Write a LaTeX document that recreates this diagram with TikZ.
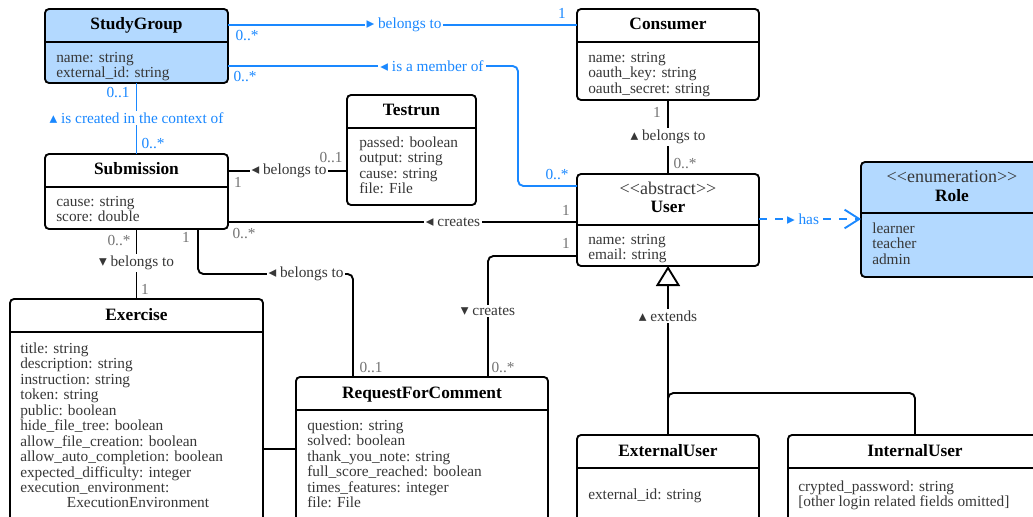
\documentclass[tikz,border=0pt]{standalone}
\usepackage{fontspec}
\setmainfont{Liberation Serif}
\newfontfamily\symfont{DejaVu Sans}
\usetikzlibrary{arrows.meta,fit}

\definecolor{umlblue}{RGB}{26,136,255}
\definecolor{umlfill}{RGB}{179,217,255}
\definecolor{attrgray}{RGB}{55,55,55}
\definecolor{multgray}{RGB}{115,115,115}

% direction markers for association names
\newcommand\rtri{{\symfont\fontsize{11.5}{12}\selectfont ▸}}
\newcommand\ltri{{\symfont\fontsize{11.5}{12}\selectfont ◂}}
\newcommand\utri{{\symfont\fontsize{11.5}{12}\selectfont ▴}}
\newcommand\dtri{{\symfont\fontsize{11.5}{12}\selectfont ▾}}
% stereotype brackets, kept as two separate characters
\newcommand\stl{<\kern0pt<}
\newcommand\str{>\kern0pt>}

\tikzset{
  classbox/.style={draw=black, line width=1.4pt, rounded corners=3pt, inner sep=0pt, outer sep=0pt},
  bluebox/.style={fill=umlfill},
  sepline/.style={line width=1.4pt},
  clstitle/.style={font=\fontsize{13}{15}\selectfont\bfseries, anchor=base, inner sep=0pt},
  stereo/.style={font=\fontsize{13.5}{14}\selectfont, text=attrgray, anchor=base, inner sep=0pt},
  attrs/.style={font=\fontsize{11.5}{11.6}\selectfont, text=attrgray, align=left, anchor=north west, inner sep=0pt},
  attrline/.style={font=\fontsize{11.5}{11.6}\selectfont, text=attrgray, anchor=base west, inner sep=0pt},
  assoc/.style={line width=1.4pt, rounded corners=4pt},
  blueassoc/.style={assoc, draw=umlblue},
  lbl/.style={fill=white, inner sep=1.5pt, font=\fontsize{11.5}{12}\selectfont, text=attrgray},
  bluelbl/.style={lbl, text=umlblue},
  mult/.style={inner sep=0pt, font=\fontsize{11.5}{12}\selectfont, text=multgray},
  bluemult/.style={mult, text=umlblue},
}

% class frame: name, x1, y1, x2, y2, separator y, extra style
\newcommand\umlclass[7]{%
  \coordinate (#1-nw) at (#2,#3);
  \coordinate (#1-se) at (#4,#5);
  \node[classbox,#7,fit=(#1-nw)(#1-se)] (#1) {};
  \draw[sepline] (#2,#6) -- (#4,#6);
}

\begin{document}
\begin{tikzpicture}[x=0.75pt,y=-0.75pt]
\useasboundingbox (0,0) rectangle (1033,517);
\clip (0,0) rectangle (1033,517);

% ---------- classes ----------
\umlclass{StudyGroup}{45}{9}{228}{83}{42}{bluebox}
\node[clstitle] (StudyGroup-t) at (136.5,30) {StudyGroup};
\node[attrs] (StudyGroup-a) at (56,51.2) {\strut name: string\\external\_id: string};

\umlclass{Consumer}{577}{9}{759}{100}{42}{}
\node[clstitle] (Consumer-t) at (668,30) {Consumer};
\node[attrs] (Consumer-a) at (588,51.2) {\strut name: string\\oauth\_key: string\\oauth\_secret: string};

\umlclass{Testrun}{347}{95}{476}{205}{128}{}
\node[clstitle] (Testrun-t) at (411.5,116) {Testrun};
\node[attrs] (Testrun-a) at (359,136.2) {\strut passed: boolean\\output: string\\cause: string\\file: File};

\umlclass{User}{577}{174}{759}{266}{225}{}
\node[stereo] (User-s) at (668,195) {\stl abstract\str};
\node[clstitle] (User-t) at (668,213) {User};
\node[attrs] (User-a) at (588,233.2) {\strut name: string\\email: string};

\umlclass{Role}{861}{162}{1043}{277}{213}{bluebox}
\node[stereo] (Role-s) at (952,183) {\stl enumeration\str};
\node[clstitle] (Role-t) at (952,201) {Role};
\node[attrs] (Role-a) at (872,222.2) {\strut learner\\teacher\\admin};

\umlclass{Submission}{45}{154}{228}{229}{187}{}
\node[clstitle] (Submission-t) at (136.5,175) {Submission};
\node[attrs] (Submission-a) at (56,195.2) {\strut cause: string\\score: double};

\umlclass{Exercise}{10}{299}{263}{540}{332}{}
\node[clstitle] (Exercise-t) at (136.5,320) {Exercise};
\node[attrs] (Exercise-a) at (20,342.2) {\strut title: string\\description: string\\instruction: string\\token: string\\public: boolean\\hide\_file\_tree: boolean\\allow\_file\_creation: boolean\\allow\_auto\_completion: boolean\\expected\_difficulty: integer\\execution\_environment:\\\hspace*{35pt}ExecutionEnvironment};

\umlclass{RequestForComment}{296}{377}{548}{540}{410}{}
\node[clstitle] (RequestForComment-t) at (422,398) {RequestForComment};
\node[attrs] (RequestForComment-a) at (307,419.2) {\strut question: string\\solved: boolean\\thank\_you\_note: string\\full\_score\_reached: boolean\\times\_features: integer\\file: File};

\umlclass{ExternalUser}{577}{435}{759}{540}{468}{}
\node[clstitle] (ExternalUser-t) at (668,456) {ExternalUser};
\node[attrline] (ExternalUser-a) at (588,499) {external\_id: string};

\umlclass{InternalUser}{788}{435}{1042}{540}{468}{}
\node[clstitle] (InternalUser-t) at (915,456) {InternalUser};
\node[attrs] (InternalUser-a) at (798,480.2) {\strut crypted\_password: string\\{[other login related fields omitted]}};

% ---------- connectors ----------
\draw[blueassoc] (StudyGroup.east |- 0,25) -- (Consumer.west |- 0,25);
\draw[blueassoc] (StudyGroup.east |- 0,66) -- (518,66) |- (User.west |- 0,186);
\draw[blueassoc] (StudyGroup.south) -- (Submission.north);
\draw[assoc] (Consumer.south) -- (User.north);
\draw[assoc] (Submission.east |- 0,171) -- (Testrun.west |- 0,171);
\draw[assoc] (Submission.east |- 0,222) -- (User.west |- 0,222);
\draw[assoc] (Submission.south) -- (Exercise.north);
\draw[assoc] (Submission.south -| 198,0) |- (353,274) -- (RequestForComment.north -| 353,0);
\draw[assoc] (User.west |- 0,256) -| (RequestForComment.north -| 488,0);
\draw[assoc] (Exercise.east |- 0,449) -- (RequestForComment.west |- 0,449);
\draw[blueassoc, rounded corners=0pt, dash pattern=on 6pt off 6pt,
      -{Straight Barb[length=11pt,width=14pt]}] (User.east |- 0,219) -- (Role.west |- 0,219);

% generalisation
\coordinate (genjoin) at (668,393);
\draw[assoc] (InternalUser.north) |- (genjoin) -- (ExternalUser.north);
\draw[assoc, -{Triangle[open,fill=white,length=15pt,width=18pt]}] (ExternalUser.north) -- (User.south);

% ---------- association names ----------
\node[bluelbl] (l-sgc) at (404,25) {\rtri\ belongs to};
\node[bluelbl] (l-sgu) at (432,66) {\ltri\ is a member of};
\node[bluelbl] (l-sgs) at (136.5,118) {\utri\ is created in the context of};
\node[lbl] (l-cu) at (668,137) {\utri\ belongs to};
\node[lbl] (l-st) at (289,171) {\ltri\ belongs to};
\node[lbl] (l-su) at (453,222) {\ltri\ creates};
\node[lbl] (l-se) at (136.5,263) {\dtri\ belongs to};
\node[lbl] (l-sr) at (306,274) {\ltri\ belongs to};
\node[lbl] (l-ur) at (488,311) {\dtri\ creates};
\node[bluelbl] (l-ur2) at (803,219) {\rtri\ has};
\node[lbl] (l-gen) at (668,316) {\utri\ extends};

% ---------- multiplicities ----------
\node[bluemult] at (247,36) {0..*};
\node[bluemult] at (562,13) {1};
\node[bluemult] at (245,77) {0..*};
\node[bluemult] at (557,175) {0..*};
\node[bluemult] at (118,93) {0..1};
\node[bluemult] at (153,144) {0..*};
\node[mult] at (657,112) {1};
\node[mult] at (685,164) {0..*};
\node[mult] at (238,182) {1};
\node[mult] at (331,158) {0..1};
\node[mult] at (244,234) {0..*};
\node[mult] at (566,210) {1};
\node[mult] at (119,241) {0..*};
\node[mult] at (145,289) {1};
\node[mult] at (186,237) {1};
\node[mult] at (371,368) {0..1};
\node[mult] at (566,243) {1};
\node[mult] at (503,368) {0..*};
\end{tikzpicture}
\end{document}
